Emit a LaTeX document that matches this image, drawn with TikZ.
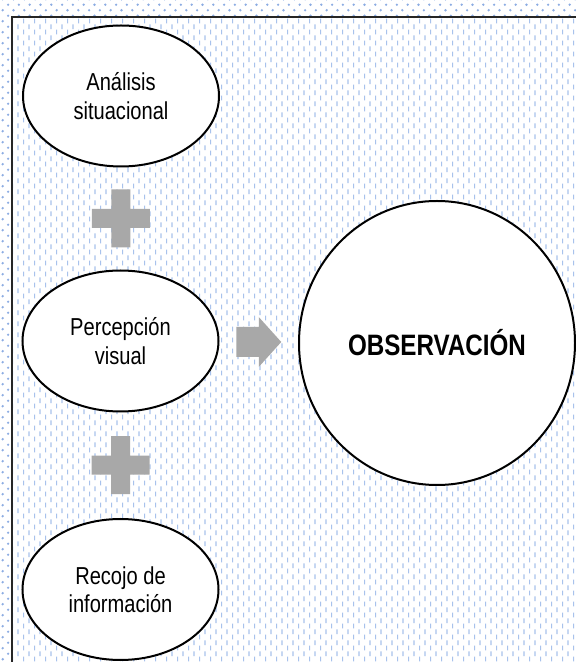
\documentclass[tikz,border=0pt]{standalone}
\usepackage{fontspec}
\setmainfont[FakeStretch=0.82]{Liberation Sans}
\usepackage{tikz}
\usetikzlibrary{shapes, calc, positioning, patterns}

\definecolor{dotblue}{RGB}{140,172,226}
\definecolor{dashblue}{RGB}{168,194,236}
\definecolor{signgray}{RGB}{168,168,168}

\pgfdeclarepatternformonly{bluedots}{\pgfqpoint{-1pt}{-1pt}}{\pgfqpoint{12pt}{12pt}}{\pgfqpoint{10.8pt}{11pt}}{
\pgfpathcircle{\pgfqpoint{2.7pt}{2.75pt}}{1.3pt}
\pgfpathcircle{\pgfqpoint{8.1pt}{8.25pt}}{1.3pt}
\pgfusepath{fill}}

\pgfdeclarepatternformonly{bluedashes}{\pgfqpoint{0pt}{0pt}}{\pgfqpoint{10.8pt}{10.8pt}}{\pgfqpoint{10.8pt}{10.8pt}}{
\pgfsetlinewidth{1.1pt}
\pgfpathmoveto{\pgfqpoint{2.7pt}{0.6pt}}\pgfpathlineto{\pgfqpoint{2.7pt}{5.4pt}}
\pgfpathmoveto{\pgfqpoint{8.1pt}{6pt}}\pgfpathlineto{\pgfqpoint{8.1pt}{10.8pt}}
\pgfusepath{stroke}}

\tikzset{
  idea/.style={ellipse, draw=black, line width=2pt, fill=white, minimum width=196, minimum height=141, inner sep=0pt, align=center, font=\fontsize{24.5}{28.5}\selectfont},
  goal/.style={ellipse, draw=black, line width=2pt, fill=white, minimum width=276, minimum height=284, inner sep=0pt, font=\bfseries\fontsize{29.5}{33}\selectfont},
}

\begin{document}
\begin{tikzpicture}[x=1pt, y=1pt]

%//background and frame
\clip (0,0) rectangle (576,662);
\fill [pattern=bluedots, pattern color=dotblue] (0,0) rectangle (576,662);
\fill [white] (12,-10) rectangle (590,645);
\fill [pattern=bluedashes, pattern color=dashblue] (12,-10) rectangle (590,645);
\draw [line width=1.5pt, black!85] (12,-10) -- (12,645) -- (590,645);

%//ideas
\node [idea] (ana) at (121, 566) {Análisis\\situacional};
\node [idea] (per) at (120.5, 321) {Percepción\\visual};
\node [idea] (rec) at (120.5, 72.5) {Recojo de\\información};
\node [goal] (obs) at (437, 319) {OBSERVACIÓN};

\coordinate (p1) at ($(ana.south)!0.5!(per.north)$);
\coordinate (p2) at ($(per.south)!0.5!(rec.north)$);
\coordinate (ar) at ($(per.east)!0.5!(obs.west)$);

\foreach \c in {p1, p2}
\fill [signgray, shift={(\c)}] (-29,-9.5) rectangle (29,9.5) (-9.5,-29) rectangle (9.5,29);

\fill [signgray, shift={(ar)}] (-22.5,-15) -- (0,-15) -- (0,-25) -- (22.5,0) -- (0,25) -- (0,15) -- (-22.5,15) -- cycle;

\end{tikzpicture}
\end{document}
